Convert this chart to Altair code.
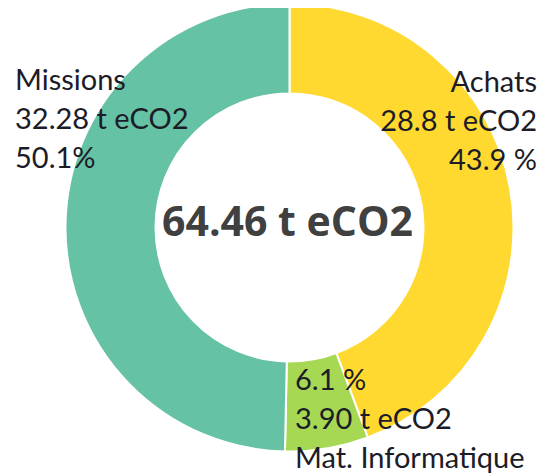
import altair as alt
import pandas as pd

categories = ["Achats", "Mat. Informatique", "Missions"]
values = [28.8, 3.90, 32.28]
value_labels = ["28.8", "3.90", "32.28"]
pct_labels = ["43.9 %", "6.1 %", "50.1%"]
colors = ["#FFD92F", "#A6D854", "#66C2A5"]
total_label = "64.46 t eCO2"
unit = "t eCO2"

df = pd.DataFrame({"cat": categories, "val": values, "order": [0, 1, 2]})

W, H = 536, 467
CX, CY = 281.5, 219.5

arcs = alt.Chart(df).mark_arc(
    outerRadius=224, innerRadius=134, stroke="white", strokeWidth=2
).encode(
    theta=alt.Theta("val:Q", stack=True),
    order=alt.Order("order:Q"),
    color=alt.Color("cat:N", scale=alt.Scale(domain=categories, range=colors), legend=None),
    x=alt.value(CX),
    y=alt.value(CY),
)

FONT = "Lato"
TXT = "#1c1c28"
FS = 29

def label(text, x, y, align):
    return alt.Chart(pd.DataFrame({"t": [text]})).mark_text(
        font=FONT, fontSize=FS, color=TXT, align=align, baseline="alphabetic",
        lineBreak="\n", lineHeight=39
    ).encode(text="t:N", x=alt.value(x), y=alt.value(y))

l_missions = label(f"{categories[2]}\n{value_labels[2]} {unit}\n{pct_labels[2]}", 7, 82, "left")
l_achats = label(f"{categories[0]}\n{value_labels[0]} {unit}\n{pct_labels[0]}", 529, 84, "right")
l_mat = label(f"{pct_labels[1]}\n{value_labels[1]} {unit}\n{categories[1]}", 287, 382, "left")

center = alt.Chart(pd.DataFrame({"t": [total_label]})).mark_text(
    font="Open Sans", fontSize=41, fontWeight="bold", color="#404040",
    align="center", baseline="alphabetic"
).encode(text="t:N", x=alt.value(CX - 2), y=alt.value(228))

chart = alt.layer(arcs, center, l_missions, l_achats, l_mat).properties(
    width=W, height=H, padding=0, autosize=alt.AutoSizeParams(type="none")
).configure_view(stroke=None)

chart.save("out.html", embed_options={"renderer": "svg", "actions": False})
